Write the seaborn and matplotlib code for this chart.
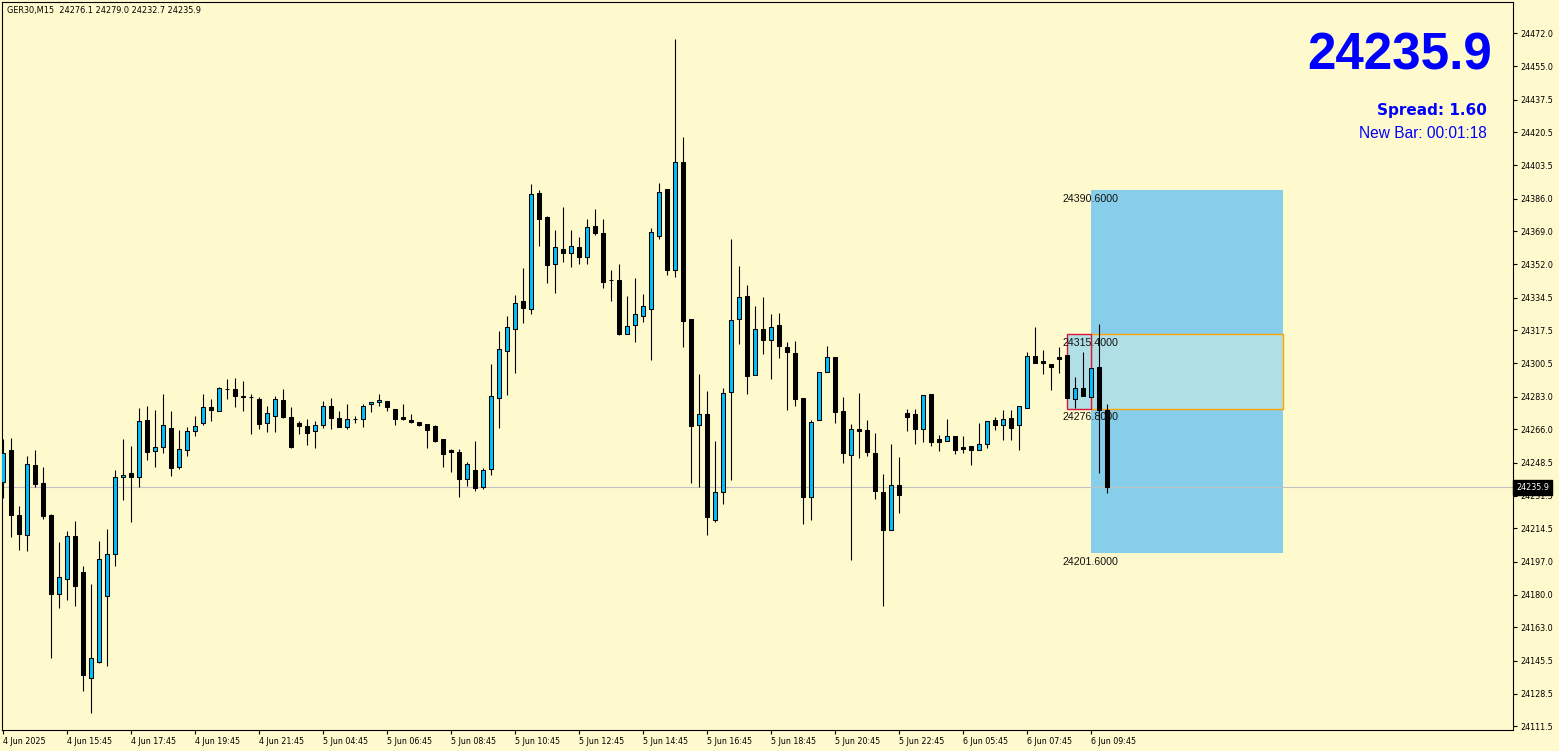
import numpy as np
import pandas as pd
import matplotlib
matplotlib.use('Agg')
import matplotlib.pyplot as plt
import matplotlib.patches as mpatches
import seaborn as sns

# GER30 M15 candles (index = bar number from left)
opens = [24238.4, 24255.2, 24221.4, 24210.8, 24247.2, 24237.9, 24221.7, 24180.1, 24188.4, 24210.3,
         24191.6, 24136.9, 24145.0, 24179.1, 24200.9, 24241.0, 24243.1, 24241.0, 24270.6, 24254.8,
         24256.6, 24266.5, 24246.5, 24255.0, 24264.9, 24269.1, 24277.4, 24275.8, 24286.8, 24286.8,
         24283.3, 24282.6, 24281.6, 24269.1, 24273.2, 24281.1, 24272.2, 24269.1, 24267.7, 24264.9,
         24268.0, 24278.4, 24271.7, 24267.0, 24271.2, 24271.2, 24279.0, 24280.0, 24280.5, 24276.4,
         24272.2, 24270.6, 24269.8, 24268.6, 24267.7, 24260.8, 24255.2, 24254.0, 24240.0, 24244.8,
         24236.1, 24245.2, 24282.4, 24306.9, 24318.3, 24332.7, 24328.7, 24388.9, 24376.4, 24352.1,
         24359.8, 24357.8, 24360.8, 24355.8, 24371.7, 24368.1, 24343.6, 24343.6, 24315.5, 24320.4,
         24325.1, 24328.4, 24366.7, 24391.0, 24349.0, 24405.0, 24323.2, 24268.5, 24273.8, 24218.6,
         24233.2, 24285.2, 24323.2, 24335.2, 24294.1, 24318.0, 24312.3, 24320.1, 24308.6, 24305.5,
         24282.1, 24230.6, 24270.6, 24295.6, 24303.4, 24275.3, 24252.4, 24266.0, 24265.4, 24253.5,
         24233.2, 24213.4, 24236.8, 24274.3, 24273.8, 24266.0, 24284.3, 24260.8, 24259.7, 24262.3,
         24256.8, 24257.3, 24255.0, 24258.2, 24270.8, 24268.0, 24271.8, 24268.0, 24277.2, 24303.9,
         24301.3, 24300.2, 24303.4, 24304.6, 24281.6, 24287.3, 24283.0, 24298.2, 24276.1]
highs = [24261.0, 24261.4, 24226.1, 24252.1, 24255.2, 24246.2, 24222.0, 24207.2, 24213.1, 24218.3,
         24194.8, 24185.5, 24207.8, 24214.1, 24245.1, 24260.9, 24257.3, 24276.9, 24278.1, 24276.0,
         24284.2, 24275.8, 24265.6, 24267.0, 24273.2, 24284.2, 24281.7, 24288.0, 24292.1, 24292.7,
         24291.1, 24284.3, 24282.8, 24278.1, 24283.1, 24286.8, 24277.4, 24270.3, 24271.2, 24270.3,
         24280.5, 24282.1, 24275.3, 24279.1, 24273.2, 24279.1, 24280.0, 24284.3, 24280.5, 24276.4,
         24279.0, 24273.9, 24269.8, 24268.6, 24268.4, 24260.8, 24255.9, 24255.6, 24249.0, 24260.0,
         24245.8, 24299.9, 24317.1, 24324.9, 24335.8, 24350.0, 24393.6, 24390.5, 24376.9, 24369.7,
         24381.8, 24369.7, 24366.0, 24375.4, 24380.6, 24375.4, 24348.8, 24352.0, 24335.3, 24344.7,
         24336.4, 24370.7, 24394.1, 24391.0, 24469.0, 24418.0, 24323.2, 24294.7, 24285.9, 24259.9,
         24287.3, 24365.0, 24350.9, 24340.9, 24330.0, 24334.6, 24325.8, 24326.3, 24311.2, 24311.8,
         24282.1, 24270.6, 24295.6, 24309.1, 24303.4, 24282.6, 24268.6, 24284.7, 24270.6, 24263.9,
         24242.6, 24258.2, 24251.4, 24276.4, 24276.4, 24283.7, 24284.3, 24262.8, 24271.3, 24262.3,
         24262.3, 24257.3, 24269.1, 24270.1, 24272.5, 24276.0, 24276.0, 24278.4, 24306.0, 24319.4,
         24307.1, 24300.2, 24309.0, 24304.6, 24293.0, 24306.0, 24297.7, 24320.8, 24279.0]
lows = [24230.4, 24210.1, 24203.3, 24202.8, 24236.1, 24219.5, 24147.1, 24173.1, 24177.3, 24174.2,
        24130.0, 24118.5, 24144.5, 24143.0, 24195.0, 24229.3, 24217.9, 24236.1, 24250.1, 24246.5,
        24253.8, 24241.8, 24245.5, 24252.2, 24262.6, 24268.0, 24270.4, 24275.3, 24281.7, 24277.7,
        24275.8, 24263.7, 24266.4, 24264.7, 24264.7, 24271.7, 24256.1, 24263.4, 24258.0, 24256.4,
        24266.8, 24266.3, 24267.3, 24266.0, 24269.4, 24267.3, 24275.1, 24278.4, 24275.6, 24268.4,
        24271.0, 24269.1, 24267.8, 24256.4, 24259.2, 24246.5, 24243.9, 24230.9, 24236.5, 24234.0,
        24235.1, 24242.3, 24266.8, 24283.8, 24295.4, 24321.4, 24326.0, 24361.3, 24342.2, 24337.0,
        24353.2, 24350.6, 24352.1, 24352.1, 24367.1, 24339.6, 24332.9, 24315.0, 24315.5, 24311.4,
        24321.8, 24302.0, 24365.0, 24346.2, 24345.2, 24308.8, 24238.0, 24236.1, 24210.8, 24217.6,
        24227.3, 24239.7, 24310.5, 24284.5, 24294.1, 24305.3, 24292.3, 24303.2, 24276.2, 24278.2,
        24216.5, 24218.9, 24270.6, 24295.6, 24269.4, 24248.3, 24197.8, 24250.9, 24252.1, 24229.9,
        24173.9, 24213.4, 24222.3, 24265.2, 24258.5, 24259.5, 24257.4, 24254.8, 24259.7, 24253.3,
        24253.8, 24247.5, 24255.0, 24256.4, 24265.4, 24260.6, 24260.2, 24255.4, 24277.2, 24300.6,
        24294.9, 24286.7, 24295.3, 24282.5, 24276.9, 24283.6, 24283.0, 24243.4, 24232.7]
closes = [24253.5, 24221.7, 24211.6, 24247.8, 24237.7, 24221.0, 24180.1, 24189.0, 24210.3, 24184.6,
          24138.3, 24146.8, 24198.8, 24201.4, 24241.0, 24242.0, 24241.0, 24270.1, 24254.3, 24256.6,
          24268.0, 24246.0, 24255.6, 24264.9, 24267.5, 24277.4, 24276.2, 24287.3, 24286.8, 24283.4,
          24282.6, 24282.6, 24269.0, 24274.3, 24281.6, 24272.6, 24256.9, 24267.5, 24264.2, 24268.0,
          24278.4, 24272.0, 24267.3, 24271.2, 24271.2, 24277.9, 24280.0, 24281.1, 24277.7, 24271.5,
          24271.5, 24269.9, 24268.4, 24265.8, 24260.0, 24253.3, 24254.3, 24240.3, 24247.8, 24235.6,
          24244.8, 24283.2, 24307.7, 24319.2, 24331.5, 24329.2, 24388.4, 24375.5, 24351.6, 24360.7,
          24357.8, 24361.3, 24355.8, 24371.1, 24368.3, 24342.8, 24343.6, 24315.5, 24319.7, 24325.8,
          24330.1, 24368.6, 24389.4, 24348.8, 24405.0, 24322.5, 24267.8, 24273.8, 24220.2, 24233.5,
          24285.0, 24322.7, 24334.6, 24293.5, 24318.0, 24312.3, 24319.0, 24309.1, 24306.0, 24281.9,
          24230.6, 24269.6, 24295.6, 24303.4, 24275.1, 24253.5, 24266.0, 24265.2, 24254.0, 24233.7,
          24213.4, 24236.8, 24232.1, 24272.5, 24266.3, 24283.7, 24259.5, 24259.2, 24262.3, 24255.0,
          24255.9, 24255.4, 24258.2, 24270.1, 24268.4, 24271.3, 24266.8, 24278.4, 24303.9, 24300.6,
          24300.6, 24298.2, 24302.7, 24282.5, 24287.7, 24283.6, 24297.7, 24276.1, 24235.9]

xtick_idx = list(range(0, 137, 8))
xtick_labels = ['4 Jun 2025', '4 Jun 15:45', '4 Jun 17:45', '4 Jun 19:45', '4 Jun 21:45',
                '5 Jun 04:45', '5 Jun 06:45', '5 Jun 08:45', '5 Jun 10:45', '5 Jun 12:45',
                '5 Jun 14:45', '5 Jun 16:45', '5 Jun 18:45', '5 Jun 20:45', '5 Jun 22:45',
                '6 Jun 05:45', '6 Jun 07:45', '6 Jun 09:45']
ytick_vals = [24472.0, 24455.0, 24437.5, 24420.5, 24403.5, 24386.0, 24369.0, 24352.0, 24334.5,
              24317.5, 24300.5, 24283.0, 24266.0, 24248.5, 24231.5, 24214.5, 24197.0, 24180.0,
              24163.0, 24145.5, 24128.5, 24111.5]

bid = 24235.9
# zone boxes: (start bar, end bar, low, high)
outer_zone = (136, 160, 24201.6, 24390.6)
inner_zone = (136, 160, 24276.8, 24315.4)
prev_zone = (133, 136, 24276.8, 24315.4)

bg = '#FFFACD'
bull = '#00BFFF'

sns.set_theme(style='white', rc={'axes.facecolor': bg, 'figure.facecolor': bg})
plt.rcParams['font.family'] = ['DejaVu Sans']

df = pd.DataFrame({'open': opens, 'high': highs, 'low': lows, 'close': closes})
df['idx'] = np.arange(len(df))
df['up'] = df['close'] > df['open']

W, H = 1559, 751
fig = plt.figure(figsize=(W / 100, H / 100), dpi=100)
ax = fig.add_axes([2 / W, 21 / H, 1511 / W, 728 / H])

# zones
ax.add_patch(mpatches.Rectangle((outer_zone[0], outer_zone[2]), outer_zone[1] - outer_zone[0],
                                outer_zone[3] - outer_zone[2], facecolor='#87CEEB', edgecolor='none', zorder=1))
ax.add_patch(mpatches.Rectangle((inner_zone[0], inner_zone[2]), inner_zone[1] - inner_zone[0],
                                inner_zone[3] - inner_zone[2], facecolor='#B0E0E6', edgecolor='#FFA500',
                                linewidth=1.0, zorder=1.2))
ax.add_patch(mpatches.Rectangle((prev_zone[0], prev_zone[2]), prev_zone[1] - prev_zone[0],
                                prev_zone[3] - prev_zone[2], facecolor='#B0E0E6', edgecolor='#DC143C',
                                linewidth=1.0, zorder=1.2))
for p in [outer_zone[3], inner_zone[3], inner_zone[2], outer_zone[2]]:
    ax.text(132.4, p - 2.0, f'{p:.4f}', ha='left', va='top', fontsize=7.7,
            family=['Liberation Sans', 'DejaVu Sans'], color='#111111', zorder=6)

# bid line
ax.axhline(bid, color='#C0C0C0', lw=0.8, zorder=1.5)

# candles
ax.vlines(df['idx'], df['low'], df['high'], color='black', lw=0.8, zorder=2)
body_bottom = df[['open', 'close']].min(axis=1)
body_h = (df['close'] - df['open']).abs()
ax.bar(df['idx'], body_h, bottom=body_bottom, width=0.52,
       color=np.where(df['up'], bull, 'black'), edgecolor='black', linewidth=0.75, zorder=3)

ax.set_xlim(-0.1625, 188.71)
ax.set_ylim(24109.6, 24488.3)

ax.yaxis.tick_right()
ax.set_yticks(ytick_vals)
ax.set_yticklabels([f'{v:.1f}' for v in ytick_vals], fontsize=5.8)
ax.set_xticks(xtick_idx)
ax.set_xticklabels(xtick_labels, fontsize=5.8, ha='left')
ax.tick_params(axis='both', length=3, width=0.8, pad=2, colors='black', direction='out')
ax.tick_params(axis='y', right=True, left=False)
ax.tick_params(axis='x', bottom=True)
for s in ax.spines.values():
    s.set_color('black')
    s.set_linewidth(0.8)
ax.grid(False)

# current price tag on the axis
ax.text(1.002, bid, f'{bid:.1f}', transform=ax.get_yaxis_transform(), ha='left', va='center',
        fontsize=5.8, color='white', zorder=10, clip_on=False,
        bbox=dict(boxstyle='square,pad=0.35', fc='black', ec='black'))

# header and info text
fig.text(7 / W, 1 - 10 / H, 'GER30,M15  24276.1 24279.0 24232.7 24235.9', fontsize=5.9,
         va='center', ha='left', color='black')
fig.text(1492 / W, 1 - 70 / H, '24235.9', ha='right', va='baseline', fontsize=36.8,
         fontweight='bold', color='#0000FF', family=['Liberation Sans', 'DejaVu Sans'])
fig.text(1487 / W, 1 - 115 / H, 'Spread: 1.60', ha='right', va='baseline', fontsize=11,
         fontweight='bold', color='#0000FF', family=['DejaVu Sans'])
fig.text(1487 / W, 1 - 138 / H, 'New Bar: 00:01:18', ha='right', va='baseline', fontsize=11.2,
         color='#0000FF', family=['Liberation Sans', 'DejaVu Sans'])

fig.savefig('out.png', dpi=100, facecolor=bg)
